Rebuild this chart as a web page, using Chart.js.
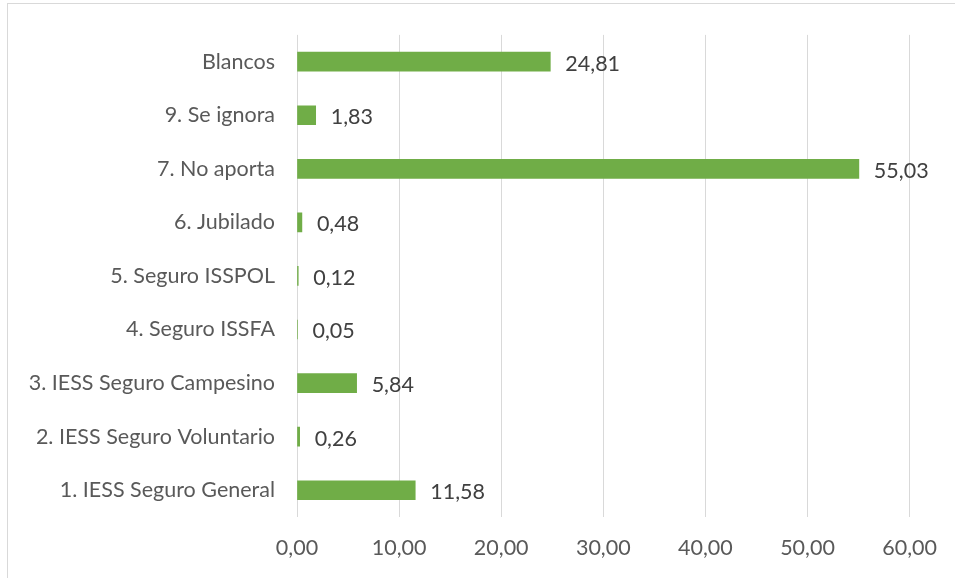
<!DOCTYPE html>
<html>
<head>
<meta charset="utf-8">
<script src="https://cdn.jsdelivr.net/npm/chart.js@4.4.1/dist/chart.umd.min.js"></script>
<style>
  html, body { margin: 0; padding: 0; background: #fff; }
  #wrap { position: relative; width: 955px; height: 578px; overflow: hidden; }
  #frame { position: absolute; left: 7px; top: 3px; width: 1000px; height: 700px; border: 1px solid #d9d9d9; box-sizing: border-box; }
  canvas { position: absolute; left: 0; top: 0; }
</style>
</head>
<body>
<div id="wrap">
  <div id="frame"></div>
  <canvas id="myChart" width="955" height="578"></canvas>
</div>
<script>
// categories, top to bottom as in the picture
let categories = [
  'Blancos',
  '9. Se ignora',
  '7. No aporta',
  '6. Jubilado',
  '5. Seguro ISSPOL',
  '4. Seguro ISSFA',
  '3. IESS Seguro Campesino',
  '2. IESS Seguro Voluntario',
  '1. IESS Seguro General'
]
let percentages = [24.81, 1.83, 55.03, 0.48, 0.12, 0.05, 5.84, 0.26, 11.58]
let xTicks = [0, 10, 20, 30, 40, 50, 60]

const fmt = v => v.toFixed(2).replace('.', ',')
const FONT = 'Lato, "Open Sans", sans-serif'

// draws the value next to the end of each bar
const barValues = {
  id: 'barValues',
  afterDatasetsDraw(chart) {
    const ctx = chart.ctx
    const meta = chart.getDatasetMeta(0)
    ctx.save()
    ctx.font = '21.5px ' + FONT
    ctx.fillStyle = '#404040'
    ctx.textAlign = 'left'
    ctx.textBaseline = 'middle'
    meta.data.forEach((bar, i) => {
      ctx.fillText(fmt(percentages[i]), bar.x + 15, bar.y + 2)
    })
    ctx.restore()
  }
}

let myChart = document.querySelector('#myChart')

new Chart(myChart, {
  type: 'bar',
  data: {
    labels: categories,
    datasets: [{
      data: percentages,
      backgroundColor: '#70ad47',
      barThickness: 19
    }]
  },
  options: {
    indexAxis: 'y',
    responsive: false,
    animation: false,
    layout: { padding: { top: 32, right: 44, left: 0, bottom: 0 } },
    plugins: { legend: { display: false }, tooltip: { enabled: false } },
    scales: {
      x: {
        min: 0,
        max: 60,
        afterBuildTicks: s => { s.ticks = xTicks.map(v => ({ value: v })) },
        afterFit: s => { s.height = 61 },
        border: { display: false },
        grid: { color: '#d9d9d9', lineWidth: 1, drawTicks: false },
        ticks: {
          padding: 18,
          color: '#595959',
          font: { size: 21.5, family: FONT },
          callback: v => fmt(v)
        }
      },
      y: {
        afterFit: s => { s.width = 297 },
        border: { display: false },
        grid: { display: false, drawTicks: false },
        ticks: {
          padding: 22,
          color: '#595959',
          font: { size: 21.5, family: FONT }
        }
      }
    }
  },
  plugins: [barValues]
})
</script>
</body>
</html>
